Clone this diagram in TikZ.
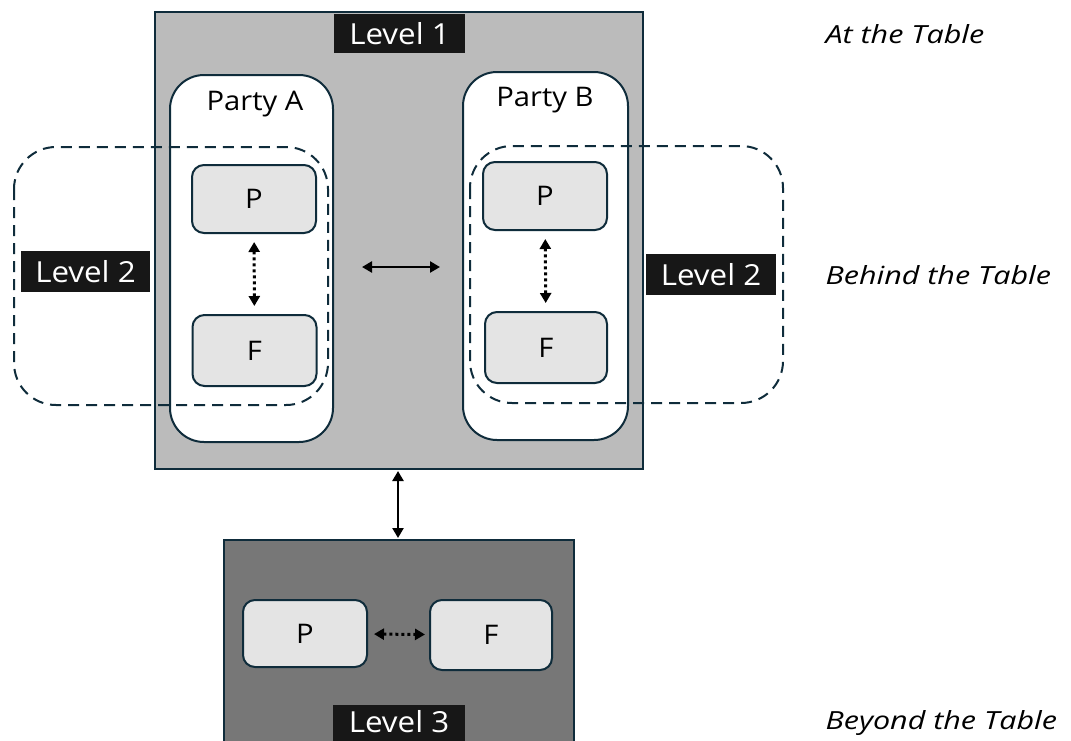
\documentclass[tikz,border=0pt]{standalone}
\usepackage{fontspec}
\setmainfont{Open Sans}
\newfontfamily\widefont[FakeStretch=1.08]{Open Sans}
\newfontfamily\capfont[FakeStretch=1.22]{Open Sans}
\usetikzlibrary{arrows.meta}
\definecolor{edge}{HTML}{0F2C3B}
\definecolor{lvlone}{HTML}{BBBBBB}
\definecolor{lvlthree}{HTML}{777777}
\definecolor{cell}{HTML}{E4E4E4}
\definecolor{tag}{HTML}{171717}
\tikzset{
  frame/.style={draw=edge, line width=2pt},
  party/.style={frame, fill=white, rounded corners=34pt},
  cellbox/.style={frame, fill=cell, rounded corners=12pt},
  zone/.style={draw=edge, line width=2pt, dash pattern=on 11pt off 7pt, rounded corners=42pt},
  tagbox/.style={fill=tag, text=white, inner sep=0pt, font=\widefont\fontsize{29}{31}\selectfont},
  celltext/.style={font=\widefont\fontsize{27}{29}\selectfont},
  side/.style={anchor=west, font=\capfont\fontsize{25}{28}\selectfont\itshape},
  link/.style={line width=2.4pt, {Triangle[length=10pt,width=11pt]}-{Triangle[length=10pt,width=11pt]}},
  dotlink/.style={line width=3pt, dash pattern=on 3pt off 3pt, {Triangle[length=10pt,width=11pt]}-{Triangle[length=10pt,width=11pt]}}
}
\begin{document}
\begin{tikzpicture}[x=1pt,y=-1pt]
\useasboundingbox (0,0) rectangle (1071,740);
\clip (0,0) rectangle (1071,740);

% Level 1: at the table
\draw[frame, fill=lvlone] (155,12) rectangle (643,469);
\node[tagbox, minimum width=131pt, minimum height=39pt] (l1) at (399.5,33.5) {Level 1};

% the two parties
\draw[party] (170,75) rectangle (333,442);
\draw[party] (463,72) rectangle (628,440);
\node[celltext] (pa) at (255,104) {Party A};
\node[celltext] (pb) at (545,100) {Party B};

\node[cellbox, minimum width=124pt, minimum height=68pt, celltext] (pA) at (254,199) {P};
\node[cellbox, minimum width=124pt, minimum height=71pt, celltext] (fA) at (254.5,350.5) {F};
\node[cellbox, minimum width=124pt, minimum height=68pt, celltext] (pB) at (545,196) {P};
\node[cellbox, minimum width=122pt, minimum height=71pt, celltext] (fB) at (546,347.5) {F};

\draw[dotlink, shorten <=8pt, shorten >=8pt] (pA) -- (fA);
\draw[dotlink, shorten <=8pt, shorten >=8pt] (pB) -- (fB);

\coordinate (hl) at (362,267);
\coordinate (hr) at (440,267);
\draw[link] (hl) -- (hr);

% Level 2: behind the table
\draw[zone] (14,147) rectangle (328,405);
\draw[zone] (470,146) rectangle (783,403);
\node[tagbox, minimum width=129pt, minimum height=41pt] (l2a) at (85.5,271.5) {Level 2};
\node[tagbox, minimum width=130pt, minimum height=41pt] (l2b) at (711,274.5) {Level 2};

% Level 3: beyond the table
\draw[frame, fill=lvlthree] (224,540) rectangle (574,760);
\node[cellbox, minimum width=124pt, minimum height=67pt, celltext] (pC) at (305,633.5) {P};
\node[cellbox, minimum width=122pt, minimum height=70pt, celltext] (fC) at (491,635) {F};
\draw[dotlink, shorten <=6pt, shorten >=4pt] (pC) -- (fC);
\fill[tag] (333,705) rectangle (465,745);
\node[tagbox, fill=none] (l3) at (399,722) {Level 3};

\coordinate (vt) at (398,471);
\coordinate (vb) at (398,538);
\draw[link] (vt) -- (vb);

% side captions
\node[side] (c1) at (822,34) {At the Table};
\node[side] (c2) at (822,275) {Behind the Table};
\node[side] (c3) at (822,723) {Beyond the Table};
\end{tikzpicture}
\end{document}
